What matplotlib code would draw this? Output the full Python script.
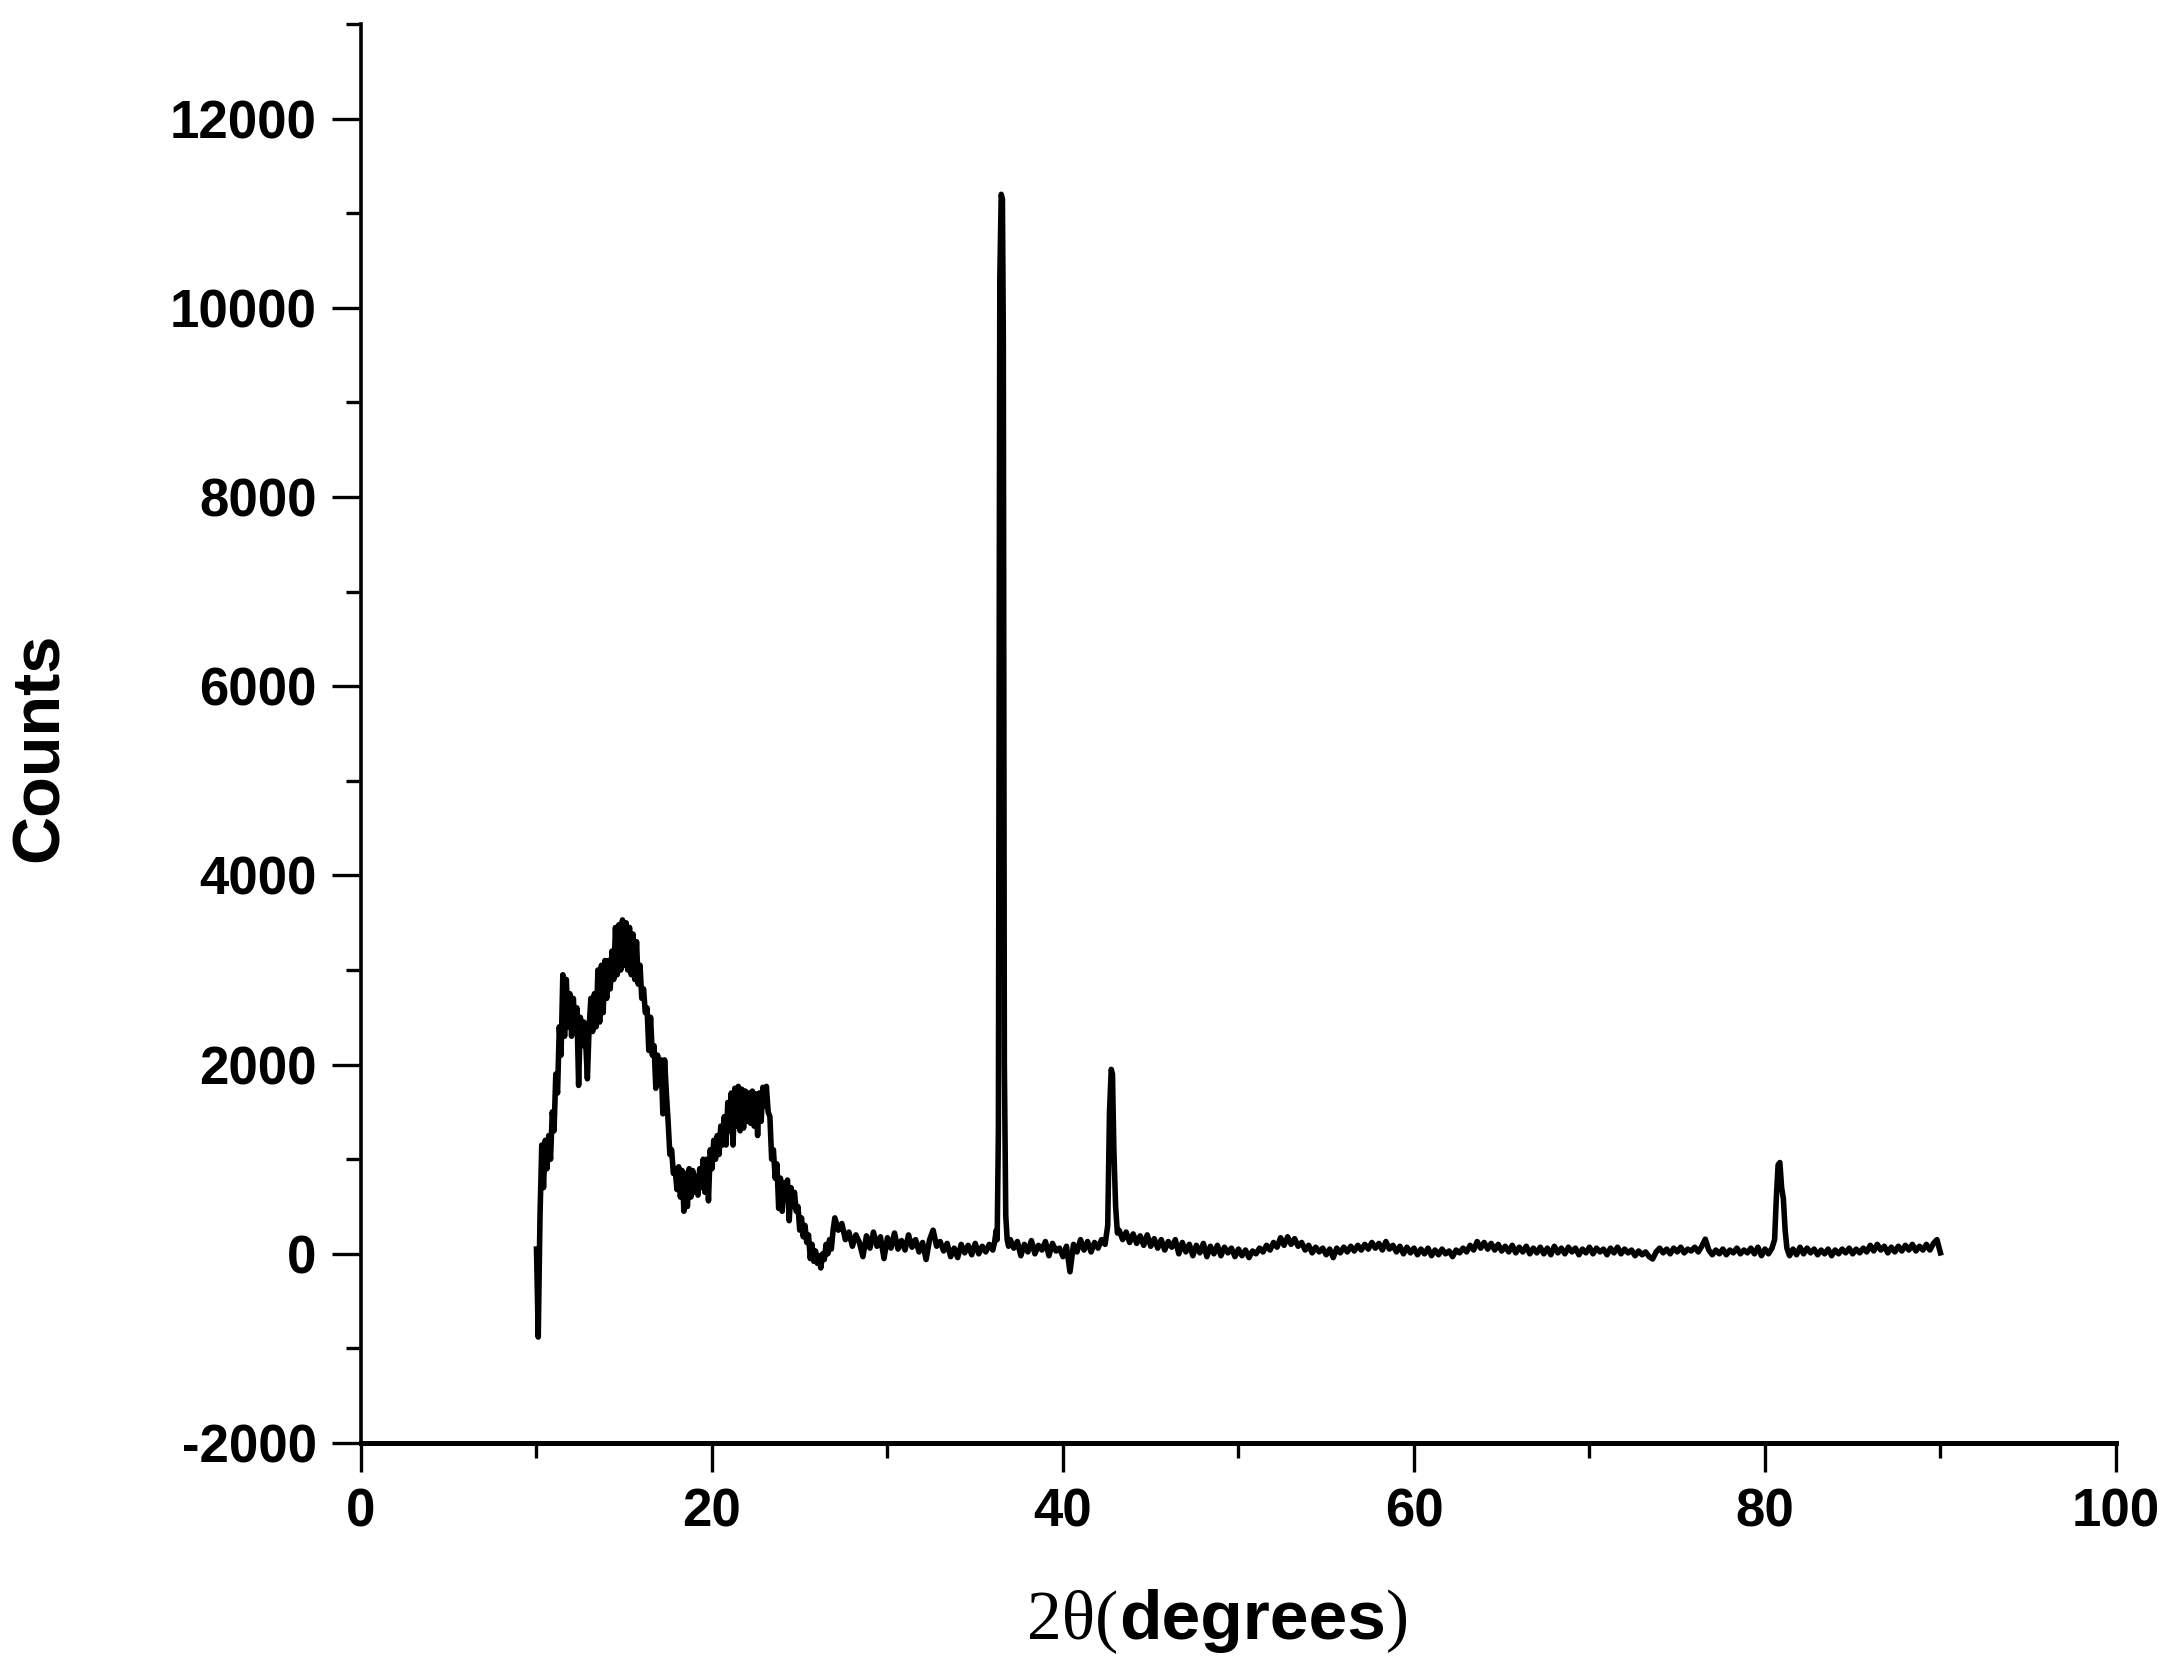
import numpy as np
import matplotlib
matplotlib.use("Agg")
import matplotlib.pyplot as plt  # noqa: E402
from matplotlib.ticker import MultipleLocator  # noqa: E402
from matplotlib.offsetbox import TextArea, HPacker, AnnotationBbox  # noqa: E402

# --- data (counts), sampled on regular 2-theta steps per segment -------------------
# amorphous humps, 10.0 .. 26.9 deg, step 0.1
hump_start, hump_step = 10.0, 0.1
hump_counts = [
    50, -880, 400, 1150, 700, 1200, 900, 1250, 1000, 1500,
    1300, 1900, 1700, 2400, 2100, 2950, 2300, 2900, 2400, 2750,
    2300, 2700, 2350, 2600, 1780, 2500, 2200, 2450, 2250, 1850,
    2400, 2700, 2350, 2750, 2400, 3000, 2450, 3050, 2550, 3100,
    2700, 3100, 2800, 3200, 2900, 3450, 2950, 3480, 3000, 3530,
    3050, 3500, 3000, 3450, 2950, 3380, 2900, 3300, 2850, 3050,
    2700, 2800, 2550, 2600, 2150, 2500, 2100, 2200, 1750, 2100,
    1800, 2050, 1480, 2050, 1700, 1400, 1050, 1100, 850, 900,
    680, 920, 600, 880, 450, 850, 500, 900, 600, 880,
    650, 820, 620, 900, 700, 1000, 650, 1000, 560, 1100,
    900, 1200, 1000, 1250, 1050, 1350, 1150, 1450, 1150, 1600,
    1300, 1700, 1150, 1750, 1350, 1770, 1300, 1740, 1330, 1720,
    1400, 1700, 1380, 1720, 1350, 1690, 1250, 1700, 1400, 1760,
    1560, 1770, 1500, 1450, 1000, 1100, 800, 950, 480, 800,
    450, 750, 600, 780, 350, 700, 500, 650, 450, 500,
    250, 380, 180, 300, 120, 200, -50, 100, -80, 30,
    -100, -20, -150, 0, -60, 100, 0, 150, 50, 250,
]

# baseline 27.0 .. 36.0, step 0.2
base1_start, base_step = 27.0, 0.2
base1_counts = [
    380, 250, 320, 150, 230, 80, 200, 120, -30, 190,
    60, 230, 80, 180, -50, 170, 60, 220, 50, 140,
    40, 200, 70, 150, 20, 120, -60, 150, 250, 80,
    130, 30, 110, -30, 60, -40, 100, 10, 90, -10,
    110, 0, 80, 20, 100, 40,
]

# main reflection near 36.5 deg
peak1_theta = [36.1, 36.2, 36.25, 36.32, 36.40, 36.48, 36.55, 36.60, 36.66, 36.74, 36.82, 36.9]
peak1_counts = [120, 250, 150, 1300, 10300, 11200, 11150, 9700, 2000, 400, 150, 80]

# baseline 37.0 .. 42.4
base2_start = 37.0
base2_counts = [
    150, 60, 130, -20, 100, 20, 140, 0, 90, 40,
    130, -20, 110, 30, 60, -30, 80, -190, 100, 20,
    150, 40, 130, 20, 120, 60, 150, 100,
]

# reflection near 42.8 deg
peak2_theta = [42.55, 42.65, 42.75, 42.82, 42.9, 43.0, 43.1]
peak2_counts = [300, 1500, 1950, 1900, 1100, 500, 220]

# baseline 43.2 .. 80.4
base3_start = 43.2
base3_counts = [
    250, 150, 230, 120, 210, 110, 190, 90, 200, 80,
    160, 60, 150, 40, 130, 70, 150, 0, 120, 20,
    100, -20, 90, 10, 110, -30, 80, 0, 90, -20,
    70, 10, 60, -30, 50, -20, 40, -40, 30, 0,
    60, 20, 90, 40, 120, 70, 170, 90, 180, 100,
    160, 80, 120, 40, 90, 10, 70, 20, 60, -10,
    50, -40, 60, 10, 70, 20, 80, 30, 90, 40,
    100, 50, 120, 60, 110, 40, 130, 50, 90, 20,
    80, 0, 70, 10, 60, -10, 50, 0, 60, -20,
    40, -10, 50, 0, 30, -30, 40, 10, 60, 20,
    90, 40, 130, 60, 120, 50, 110, 40, 100, 30,
    80, 20, 90, 10, 70, 20, 80, 0, 60, 10,
    70, 0, 60, -10, 80, 10, 60, 0, 70, 20,
    60, -10, 50, 10, 70, 0, 60, 20, 50, -10,
    60, 10, 70, 0, 50, 10, 40, -20, 30, -10,
    20, -30, -55, 20, 60, 10, 50, 0, 60, 20,
    70, 10, 50, 30, 70, 20, 80, 155, 40, -10,
    40, 0, 50, -10, 40, 10, 60, 0, 40, 10,
    60, 0, 70, -20, 50, 0, 60,
]

# reflection near 80.9 deg
peak3_theta = [80.55, 80.65, 80.75, 80.85, 80.95, 81.05, 81.15, 81.25]
peak3_counts = [150, 600, 940, 965, 700, 580, 250, 60]

# baseline 81.4 .. 90.0
base4_start = 81.4
base4_counts = [
    -20, 50, -10, 70, 0, 60, 10, 50, -10, 40,
    0, 50, -20, 40, 0, 50, 10, 60, 0, 50,
    10, 60, 20, 90, 30, 100, 40, 80, 10, 70,
    20, 80, 30, 90, 40, 100, 30, 80, 40, 100,
    40, 110, 150, 10,
]


def _grid(start, step, values):
    return np.round(start + step * np.arange(len(values)), 3)


def assemble():
    xs = [
        _grid(hump_start, hump_step, hump_counts),
        _grid(base1_start, base_step, base1_counts),
        np.array(peak1_theta),
        _grid(base2_start, base_step, base2_counts),
        np.array(peak2_theta),
        _grid(base3_start, base_step, base3_counts),
        np.array(peak3_theta),
        _grid(base4_start, base_step, base4_counts),
    ]
    ys = [hump_counts, base1_counts, peak1_counts, base2_counts, peak2_counts,
          base3_counts, peak3_counts, base4_counts]
    x = np.concatenate(xs)
    y = np.concatenate([np.asarray(v, float) for v in ys])
    order = np.argsort(x, kind="stable")
    return x[order], y[order]


def main():
    plt.rcParams["font.family"] = ["Liberation Sans", "DejaVu Sans"]
    plt.rcParams["font.weight"] = "bold"
    plt.rcParams["axes.unicode_minus"] = False

    fig = plt.figure(figsize=(21.76, 16.69), dpi=100)
    ax = fig.add_axes([0.1659, 0.1354, 0.8065, 0.8502])

    x, y = assemble()
    ax.plot(x, y, color="black", lw=4.0, solid_joinstyle="round")

    ax.set_xlim(0, 100)
    ax.set_ylim(-2000, 13000)
    ax.xaxis.set_major_locator(MultipleLocator(20))
    ax.xaxis.set_minor_locator(MultipleLocator(10))
    ax.yaxis.set_major_locator(MultipleLocator(2000))
    ax.yaxis.set_minor_locator(MultipleLocator(1000))

    for side in ("top", "right"):
        ax.spines[side].set_visible(False)
    ax.spines["left"].set_linewidth(2.6)
    ax.spines["bottom"].set_linewidth(3.6)

    ax.tick_params(which="major", direction="out", length=21, width=2.4,
                   labelsize=38, pad=11)
    ax.tick_params(which="minor", direction="out", length=11, width=2.4)
    for lab in ax.get_xticklabels() + ax.get_yticklabels():
        lab.set_fontweight("bold")

    ax.set_ylabel("Counts", fontsize=48, fontweight="bold")
    ax.yaxis.set_label_coords(-0.165, 0.49)

    # x label mixes a serif "2θ(" with a bold sans "degrees"
    parts = [
        TextArea("2θ(", textprops=dict(family="Liberation Serif", fontsize=50,
                                        fontweight="normal")),
        TextArea("degrees", textprops=dict(family="Liberation Sans", fontsize=50,
                                            fontweight="bold")),
        TextArea(")", textprops=dict(family="Liberation Serif", fontsize=50,
                                      fontweight="normal")),
    ]
    box = HPacker(children=parts, align="baseline", pad=0, sep=0)
    ab = AnnotationBbox(box, (1218 / 2176, 1 - 1621 / 1669), xycoords="figure fraction",
                        box_alignment=(0.5, 0.5), frameon=False)
    fig.add_artist(ab)

    fig.savefig("out.png", dpi=100)
    plt.close(fig)


if __name__ == "__main__":
    main()
